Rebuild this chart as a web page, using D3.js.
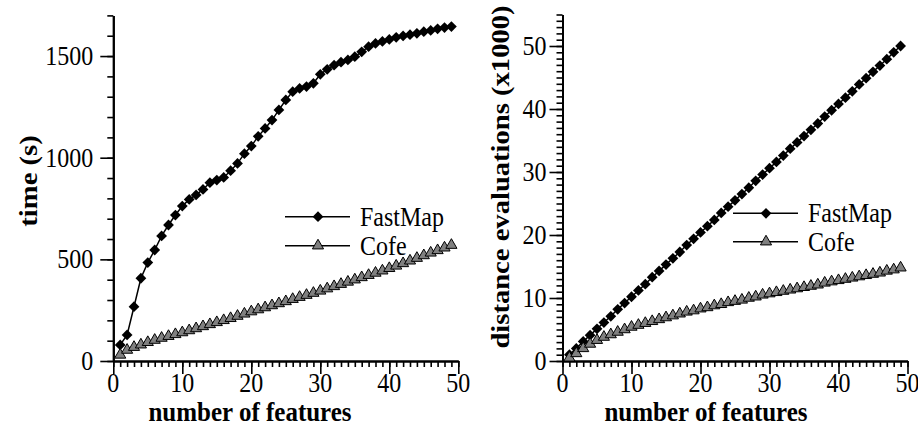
<!DOCTYPE html>
<html><head><meta charset="utf-8">
<script src="https://cdn.jsdelivr.net/npm/d3@7"></script>
<style>
body{margin:0;background:#fff}
svg{display:block}
</style>
</head><body>
<svg id="c" width="918" height="437"></svg>
<script>
// ---------------- data ----------------
const features=[1,2,3,4,5,6,7,8,9,10,11,12,13,14,15,16,17,18,19,20,21,22,23,24,25,26,27,28,29,30,31,32,33,34,35,36,37,38,39,40,41,42,43,44,45,46,47,48,49];
const seriesNames=["FastMap","Cofe"];
// time (s)
const timeFastMap=[79,128,267,407,484,546,615,669,718,762,795,817,844,877,890,903,936,972,1020,1057,1105,1144,1185,1235,1284,1325,1341,1350,1366,1410,1435,1455,1470,1481,1497,1521,1546,1562,1572,1582,1592,1599,1605,1612,1620,1626,1634,1640,1645];
const timeCofe=[30,54,68,80,92,103,113,122,131,140,150,160,170,180,190,200,210,221,232,243,253,263,273,283,293,304,314,324,334,345,356,367,378,389,400,411,422,433,444,456,468,480,493,506,519,532,544,557,570];
// distance evaluations (x1000)
const distFastMap=[1.0,2.0,3.1,4.1,5.1,6.1,7.1,8.2,9.2,10.2,11.2,12.2,13.3,14.3,15.3,16.3,17.3,18.4,19.4,20.4,21.4,22.4,23.5,24.5,25.5,26.5,27.5,28.6,29.6,30.6,31.6,32.6,33.7,34.7,35.7,36.7,37.7,38.8,39.8,40.8,41.8,42.8,43.9,44.9,45.9,46.9,47.9,49.0,50.0];
const distCofe=[0.5,1.2,2.0,2.7,3.3,3.8,4.2,4.6,5.0,5.4,5.7,6.0,6.3,6.6,6.9,7.2,7.5,7.8,8.0,8.3,8.5,8.8,9.0,9.3,9.5,9.7,10.0,10.2,10.5,10.7,10.9,11.1,11.3,11.5,11.7,11.9,12.1,12.4,12.6,12.8,13.0,13.2,13.4,13.6,13.8,14.0,14.3,14.5,14.8];
// ticks
const xTicks=[0,10,20,30,40,50];
const timeTicks=[0,500,1000,1500];
const distTicks=[0,10,20,30,40,50];

// ---------------- drawing ----------------
const FONT='"Liberation Serif","Times New Roman",Times,"DejaVu Serif",serif';
const SY=1.1; // the reference figure is slightly stretched vertically
const svg=d3.select("#c");

function addText(g,x,y,str,opts){
  const t=g.append("text")
    .attr("transform",`translate(${x},${y}) scale(1,${SY})`+(opts.rotate?` rotate(${opts.rotate})`:""))
    .attr("text-anchor",opts.anchor||"middle")
    .attr("font-family",FONT)
    .attr("font-size",opts.size)
    .attr("font-weight",opts.bold?"bold":"normal")
    .attr("fill","#000")
    .text(str);
  if(opts.dy) t.attr("dy",opts.dy);
  return t;
}

function panel(p){
  const g=svg.append("g");
  const x=d3.scaleLinear().domain([0,50]).range([p.x0,p.x1]);
  const y=d3.scaleLinear().domain([0,p.yMax]).range([p.yBottom,p.yTop]);

  const minorX=d3.range(0,51,1);
  const minorY=d3.range(0,p.yMax+0.001,p.yMinor);

  // x axis
  const gx=g.append("g").attr("transform",`translate(0,${p.yBottom})`);
  gx.append("g").call(d3.axisBottom(x).tickValues(minorX).tickSize(6).tickSizeOuter(0).tickFormat(""));
  gx.append("g").call(d3.axisBottom(x).tickValues(xTicks).tickSize(13).tickSizeOuter(0).tickFormat(""));
  // y axis
  const gy=g.append("g").attr("transform",`translate(${p.x0},0)`);
  gy.append("g").call(d3.axisLeft(y).tickValues(minorY).tickSize(6).tickSizeOuter(0).tickFormat(""));
  gy.append("g").call(d3.axisLeft(y).tickValues(p.yTicks).tickSize(13).tickSizeOuter(0).tickFormat(""));
  g.selectAll(".domain").attr("stroke","#000").attr("stroke-width",2);
  g.selectAll(".tick line").attr("stroke","#000").attr("stroke-width",1.6);

  // tick labels
  xTicks.forEach(v=>addText(g,x(v),p.yBottom+30.5,String(v),{size:24}));
  p.yTicks.forEach(v=>addText(g,p.x0-p.yLabOff,y(v),String(v),{size:24,anchor:"end",dy:"0.34em"}));

  // titles
  addText(g,p.xTitleX,p.yBottom+60,"number of features",{size:25,bold:true});
  addText(g,p.yTitleX,p.yTitleY,p.yTitle,{size:p.yTitleSize,bold:true,rotate:-90,dy:"0.35em"});

  // series
  const line=d3.line().x((d,i)=>x(features[i])).y(d=>y(d));
  const diamond=d3.symbol().type(d3.symbolSquare).size(58);
  const tri=d3.symbol().type(d3.symbolTriangle).size(54);

  g.append("path").datum(p.fast).attr("d",line).attr("fill","none").attr("stroke","#000").attr("stroke-width",1.5);
  g.selectAll(".fm").data(p.fast).join("path").attr("class","fm")
    .attr("d",diamond).attr("transform",(d,i)=>`translate(${x(features[i])},${y(d)}) rotate(45)`)
    .attr("fill","#000");

  g.append("path").datum(p.cofe).attr("d",line).attr("fill","none").attr("stroke","#000").attr("stroke-width",1.5);
  g.selectAll(".cf").data(p.cofe).join("path").attr("class","cf")
    .attr("d",tri).attr("transform",(d,i)=>`translate(${x(features[i])},${y(d)})`)
    .attr("fill","#808080").attr("stroke","#000").attr("stroke-width",1);

  // legend
  seriesNames.forEach((name,i)=>{
    const ly=p.legY+i*p.legGap;
    g.append("line").attr("x1",p.legX).attr("x2",p.legX+65).attr("y1",ly).attr("y2",ly).attr("stroke","#000").attr("stroke-width",1.5);
    if(i===0){
      g.append("path").attr("d",diamond).attr("transform",`translate(${p.legX+33},${ly}) rotate(45)`).attr("fill","#000");
    }else{
      g.append("path").attr("d",tri).attr("transform",`translate(${p.legX+33},${ly})`).attr("fill","#808080").attr("stroke","#000").attr("stroke-width",1);
    }
    addText(g,p.legX+75,ly,name,{size:24,anchor:"start",dy:"0.34em"});
  });
}

panel({x0:113.3,x1:458.3,yBottom:361,yTop:15.4,yMax:1700,yMinor:100,yTicks:timeTicks,yLabOff:20,
  xTitleX:250,yTitle:"time (s)",yTitleX:28,yTitleY:181,yTitleSize:26,
  fast:timeFastMap,cofe:timeCofe,legX:285,legY:216.7,legGap:29});
panel({x0:562.5,x1:907.5,yBottom:361,yTop:14.5,yMax:55,yMinor:1,yTicks:distTicks,yLabOff:16,
  xTitleX:706,yTitle:"distance evaluations (x1000)",yTitleX:500,yTitleY:177,yTitleSize:26,
  fast:distFastMap,cofe:distCofe,legX:733,legY:213.3,legGap:28.4});
</script>
</body></html>
